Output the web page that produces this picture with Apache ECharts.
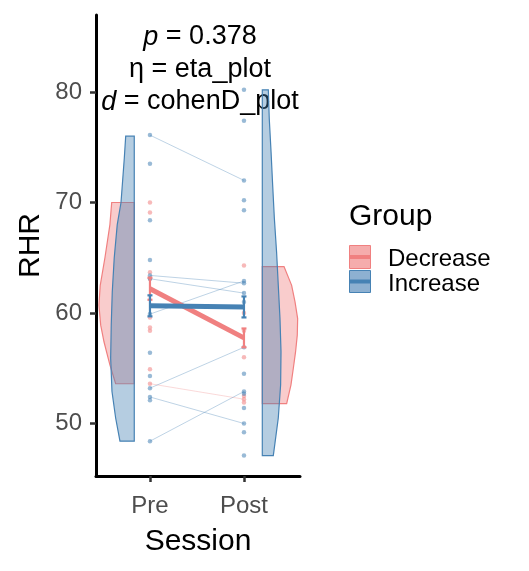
<!DOCTYPE html>
<html>
<head>
<meta charset="utf-8">
<script src="https://cdn.jsdelivr.net/npm/echarts@6/dist/echarts.min.js"></script>
<style>
  html, body { margin: 0; padding: 0; background: #fff; }
  #chart { width: 529px; height: 571px; }
</style>
</head>
<body>
<div id="chart"></div>
<script>
// sessions on the x axis (1 = Pre, 2 = Post)
const sessions = ['Pre', 'Post'];
const yTicks = [50, 60, 70, 80];

// individual RHR values
const preDecrease = [70.0, 69.1, 63.7, 63.1, 59.6, 58.7, 58.4, 54.9, 53.6];
const preIncrease = [76.1, 73.5, 68.4, 64.8, 63.4, 63.1, 59.9, 56.4, 54.3, 53.2, 52.4, 52.1, 48.4];
const postDecrease = [64.3, 60.0, 58.4, 56.0, 52.5, 52.2, 51.9];
const postIncrease = [80.2, 77.4, 72.0, 70.2, 69.3, 62.9, 62.7, 61.8, 61.0, 56.9, 54.5, 52.9, 52.7, 51.4, 50.0, 49.2, 47.1];

// subjects measured at both sessions [pre, post]
const pairsDecrease = [[53.6, 52.2]];
const pairsIncrease = [[76.1, 72.0], [63.4, 62.7], [63.1, 61.8], [59.9, 62.9], [53.2, 56.9], [52.4, 50.0], [48.4, 52.9]];

// group mean and standard error per session
const meanDecrease = [62.2, 57.75];
const seDecrease = [1.0, 0.85];
const meanIncrease = [60.65, 60.55];
const seIncrease = [0.95, 0.95];

// half-violin density profiles [RHR, density]
const densPreDecrease = [[70.0, 0.240], [68.0, 0.259], [65.0, 0.312], [62.5, 0.362], [60.7, 0.376], [58.9, 0.357], [57.4, 0.322], [55.9, 0.277], [55.3, 0.259], [53.6, 0.198]];
const densPreIncrease = [[76.0, 0.091], [74.0, 0.106], [70.0, 0.141], [68.0, 0.181], [65.0, 0.213], [61.9, 0.234], [58.9, 0.245], [55.9, 0.251], [52.9, 0.237], [50.5, 0.198], [48.4, 0.152]];
const densPostDecrease = [[64.2, 0.231], [62.5, 0.312], [61.0, 0.348], [59.5, 0.376], [58.0, 0.372], [56.5, 0.354], [55.0, 0.330], [53.5, 0.305], [51.8, 0.259]];
const densPostIncrease = [[80.2, 0.064], [77.6, 0.074], [74.6, 0.093], [71.6, 0.110], [68.6, 0.128], [65.5, 0.152], [62.5, 0.170], [59.5, 0.188], [56.5, 0.199], [53.5, 0.195], [50.5, 0.170], [47.8, 0.128], [47.1, 0.117]];

const RED = '#F08080';
const BLUE = '#4682B4';
const FONT = '"Liberation Sans", Arial, sans-serif';

// flat-sided violin, dir = -1 grows left, 1 grows right
function violin(dens, base, dir, color) {
  return {
    type: 'custom',
    silent: true,
    data: [0],
    renderItem(params, api) {
      const top = dens[0][0];
      const bottom = dens[dens.length - 1][0];
      const pts = [api.coord([base, top])];
      dens.forEach(d => pts.push(api.coord([base + dir * d[1], d[0]])));
      pts.push(api.coord([base, bottom]));
      return {
        type: 'polygon',
        shape: { points: pts },
        style: { fill: echarts.color.modifyAlpha(color, 0.4), stroke: color, lineWidth: 1.2 },
      };
    },
  };
}

function pairLines(pairs, color, alpha) {
  return {
    type: 'custom',
    silent: true,
    data: pairs,
    renderItem(params, api) {
      const a = api.coord([1, api.value(0)]);
      const b = api.coord([2, api.value(1)]);
      return {
        type: 'line',
        shape: { x1: a[0], y1: a[1], x2: b[0], y2: b[1] },
        style: { stroke: echarts.color.modifyAlpha(color, alpha), lineWidth: 1 },
      };
    },
  };
}

function points(pre, post, color) {
  return {
    type: 'scatter',
    silent: true,
    symbolSize: 4.5,
    itemStyle: { color: color, opacity: 0.55 },
    data: pre.map(v => [1, v]).concat(post.map(v => [2, v])),
  };
}

function meanLine(means, color) {
  return {
    type: 'line',
    silent: true,
    symbol: 'none',
    lineStyle: { color: color, width: 5 },
    data: means.map((m, i) => [i + 1, m]),
    z: 5,
  };
}

function errorBars(means, ses, color) {
  return {
    type: 'custom',
    silent: true,
    data: means.map((m, i) => [i + 1, m - ses[i], m + ses[i]]),
    z: 5,
    renderItem(params, api) {
      const lo = api.coord([api.value(0), api.value(1)]);
      const hi = api.coord([api.value(0), api.value(2)]);
      const st = { stroke: color, lineWidth: 2.2 };
      return {
        type: 'group',
        children: [
          { type: 'line', shape: { x1: lo[0], y1: lo[1], x2: hi[0], y2: hi[1] }, style: st },
          { type: 'line', shape: { x1: lo[0] - 2.5, y1: lo[1], x2: lo[0] + 2.5, y2: lo[1] }, style: st },
          { type: 'line', shape: { x1: hi[0] - 2.5, y1: hi[1], x2: hi[0] + 2.5, y2: hi[1] }, style: st },
        ],
      };
    },
  };
}

const chart = echarts.init(document.getElementById('chart'));

const option = {
  animation: false,
  backgroundColor: '#fff',
  textStyle: { fontFamily: FONT },
  grid: { left: 96, right: 229, top: 15, bottom: 95 },
  xAxis: {
    type: 'value',
    min: 0.426,
    max: 2.596,
    name: 'Session',
    nameLocation: 'middle',
    nameGap: 51,
    nameTextStyle: { fontSize: 30, color: '#000', fontFamily: FONT },
    splitLine: { show: false },
    axisLine: { onZero: false, lineStyle: { color: '#000', width: 3 } },
    axisTick: { customValues: [1, 2], length: 6, lineStyle: { color: '#333', width: 2.5 } },
    axisLabel: {
      customValues: [1, 2],
      formatter: v => sessions[Math.round(v) - 1],
      fontSize: 24,
      color: '#4D4D4D',
      margin: 18,
      fontFamily: FONT,
    },
  },
  yAxis: {
    type: 'value',
    min: 45.25,
    max: 86.97,
    name: 'RHR',
    nameLocation: 'middle',
    nameGap: 50,
    nameRotate: 90,
    nameTextStyle: { fontSize: 30, color: '#000', fontFamily: FONT },
    splitLine: { show: false },
    axisLine: { show: true, lineStyle: { color: '#000', width: 3 } },
    axisTick: { customValues: yTicks, length: 6, lineStyle: { color: '#333', width: 2.5 } },
    axisLabel: { customValues: yTicks, fontSize: 24, color: '#4D4D4D', margin: 14, fontFamily: FONT },
  },
  series: [
    violin(densPreDecrease, 0.833, -1, RED),
    violin(densPostDecrease, 2.195, 1, RED),
    violin(densPreIncrease, 0.833, -1, BLUE),
    violin(densPostIncrease, 2.195, 1, BLUE),
    pairLines(pairsDecrease, RED, 0.3),
    pairLines(pairsIncrease, BLUE, 0.35),
    points(preDecrease, postDecrease, RED),
    points(preIncrease, postIncrease, BLUE),
    meanLine(meanDecrease, RED),
    errorBars(meanDecrease, seDecrease, RED),
    meanLine(meanIncrease, BLUE),
    errorBars(meanIncrease, seIncrease, BLUE),
  ],
  graphic: [
    {
      type: 'text', x: 200, y: 37,
      style: {
        text: '{i|p} = 0.378', align: 'center', verticalAlign: 'middle',
        fontSize: 27, fontFamily: FONT, fill: '#000',
        rich: { i: { fontStyle: 'italic', fontSize: 27, fontFamily: FONT } },
      },
    },
    {
      type: 'text', x: 200, y: 70,
      style: { text: 'η = eta_plot', align: 'center', verticalAlign: 'middle', fontSize: 27, fontFamily: FONT, fill: '#000' },
    },
    {
      type: 'text', x: 200, y: 102,
      style: {
        text: '{i|d} = cohenD_plot', align: 'center', verticalAlign: 'middle',
        fontSize: 27, fontFamily: FONT, fill: '#000',
        rich: { i: { fontStyle: 'italic', fontSize: 27, fontFamily: FONT } },
      },
    },
    // legend
    { type: 'text', x: 349, y: 217, style: { text: 'Group', verticalAlign: 'middle', fontSize: 30, fontFamily: FONT, fill: '#000' } },
    { type: 'rect', shape: { x: 349.5, y: 245.5, width: 21, height: 23 }, style: { fill: '#F5ACAC', stroke: RED, lineWidth: 1 } },
    { type: 'line', shape: { x1: 350, y1: 257, x2: 370, y2: 257 }, style: { stroke: RED, lineWidth: 4 } },
    { type: 'rect', shape: { x: 349.5, y: 270.5, width: 21, height: 22 }, style: { fill: '#8DB0D1', stroke: BLUE, lineWidth: 1 } },
    { type: 'line', shape: { x1: 350, y1: 281.5, x2: 370, y2: 281.5 }, style: { stroke: BLUE, lineWidth: 4 } },
    { type: 'text', x: 388, y: 259, style: { text: 'Decrease', verticalAlign: 'middle', fontSize: 24, fontFamily: FONT, fill: '#000' } },
    { type: 'text', x: 388, y: 284, style: { text: 'Increase', verticalAlign: 'middle', fontSize: 24, fontFamily: FONT, fill: '#000' } },
  ],
};

chart.setOption(option);
</script>
</body>
</html>
